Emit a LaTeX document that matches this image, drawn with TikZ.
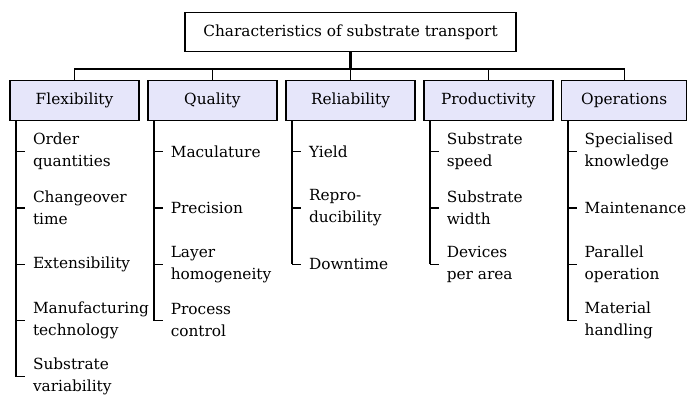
\documentclass[tikz,border=0pt]{standalone}
\usepackage{fontspec}
\setmainfont{DejaVu Serif}
\tikzset{every picture/.style={line width=1pt}}
\tikzset{
	every node/.style={font=\fontsize{11.5pt}{16.5pt}\selectfont},
	rootbox/.style={draw, line width=1.1pt, minimum width=248.25pt, minimum height=29.25pt, inner sep=0pt},
	catbox/.style={draw, line width=1.1pt, fill={rgb, 255:red, 230; green, 230; blue, 250}, minimum width=96.75pt, minimum height=30pt, inner sep=0pt},
	trunk/.style={line width=1.6pt},
	item/.style={anchor=west, align=left, inner xsep=6pt, inner ysep=0pt, outer sep=0pt}}

\begin{document}
\begin{tikzpicture}[x=0.75pt,y=0.75pt,yscale=-1,xscale=1]
	\useasboundingbox (0,0) rectangle (688,395);
	
	% Root box
	\node [rootbox] (root) at (350.5,31.8) {Characteristics of substrate transport};
	% Category boxes
	\node [catbox] (flex) at (74.5,100.3) {Flexibility};
	\node [catbox] (qual) at (212.3,100.3) {Quality};
	\node [catbox] (reli) at (350.5,100.3) {Reliability};
	\node [catbox] (prod) at (488.3,100.3) {Productivity};
	\node [catbox, minimum width=93.75pt] (oper) at (624.2,100.3) {Operations};
	
	% Bus between root and categories
	\coordinate (bus) at (350.5,69);
	\draw [trunk] (root.south) -- (bus);
	\draw (flex.north) |- (bus) -| (oper.north);
	\draw (qual.north) -- (qual.north |- bus);
	\draw (reli.north) -- (reli.north |- bus);
	\draw (prod.north) -- (prod.north |- bus);
	
	% Trunk tops
	\coordinate (flexT) at ([xshift=5.25pt]flex.south west);
	\coordinate (qualT) at ([xshift=5.25pt]qual.south west);
	\coordinate (reliT) at ([xshift=5.25pt]reli.south west);
	\coordinate (prodT) at ([xshift=5.25pt]prod.south west);
	\coordinate (operT) at ([xshift=5.25pt]oper.south west);
	
	% Flexibility
	\node [item] (flex1) at (25,151.7) {Order\\quantities};
	\node [item] (flex2) at (25,208) {Changeover\\time};
	\node [item] (flex3) at (25,264.2) {Extensibility};
	\node [item] (flex4) at (25,320.5) {Manufacturing\\technology};
	\node [item] (flex5) at (25,376.7) {Substrate\\variability};
	\draw [trunk] (flexT) -- (flexT |- flex5.west);
	\draw (flexT |- flex1.west) -- (flex1.west);
	\draw (flexT |- flex2.west) -- (flex2.west);
	\draw (flexT |- flex3.west) -- (flex3.west);
	\draw (flexT |- flex4.west) -- (flex4.west);
	\draw (flexT |- flex5.west) -- (flex5.west);
	
	% Quality
	\node [item] (qual1) at (162.8,151.7) {Maculature};
	\node [item] (qual2) at (162.8,208) {Precision};
	\node [item] (qual3) at (162.8,264.2) {Layer\\homogeneity};
	\node [item] (qual4) at (162.8,320.5) {Process\\control};
	\draw [trunk] (qualT) -- (qualT |- qual4.west);
	\draw (qualT |- qual1.west) -- (qual1.west);
	\draw (qualT |- qual2.west) -- (qual2.west);
	\draw (qualT |- qual3.west) -- (qual3.west);
	\draw (qualT |- qual4.west) -- (qual4.west);
	
	% Reliability
	\node [item] (reli1) at (301,151.7) {Yield};
	\node [item] (reli2) at (301,208) {Repro-\\ducibility};
	\node [item] (reli3) at (301,264.2) {Downtime};
	\draw [trunk] (reliT) -- (reliT |- reli3.west);
	\draw (reliT |- reli1.west) -- (reli1.west);
	\draw (reliT |- reli2.west) -- (reli2.west);
	\draw (reliT |- reli3.west) -- (reli3.west);
	
	% Productivity
	\node [item] (prod1) at (438.8,151.7) {Substrate\\speed};
	\node [item] (prod2) at (438.8,208) {Substrate\\width};
	\node [item] (prod3) at (438.8,264.2) {Devices\\per area};
	\draw [trunk] (prodT) -- (prodT |- prod3.west);
	\draw (prodT |- prod1.west) -- (prod1.west);
	\draw (prodT |- prod2.west) -- (prod2.west);
	\draw (prodT |- prod3.west) -- (prod3.west);
	
	% Operations
	\node [item] (oper1) at (576.7,151.7) {Specialised\\knowledge};
	\node [item] (oper2) at (576.7,208) {Maintenance};
	\node [item] (oper3) at (576.7,264.2) {Parallel\\operation};
	\node [item] (oper4) at (576.7,320.5) {Material\\handling};
	\draw [trunk] (operT) -- (operT |- oper4.west);
	\draw (operT |- oper1.west) -- (oper1.west);
	\draw (operT |- oper2.west) -- (oper2.west);
	\draw (operT |- oper3.west) -- (oper3.west);
	\draw (operT |- oper4.west) -- (oper4.west);
	
\end{tikzpicture}
\end{document}
